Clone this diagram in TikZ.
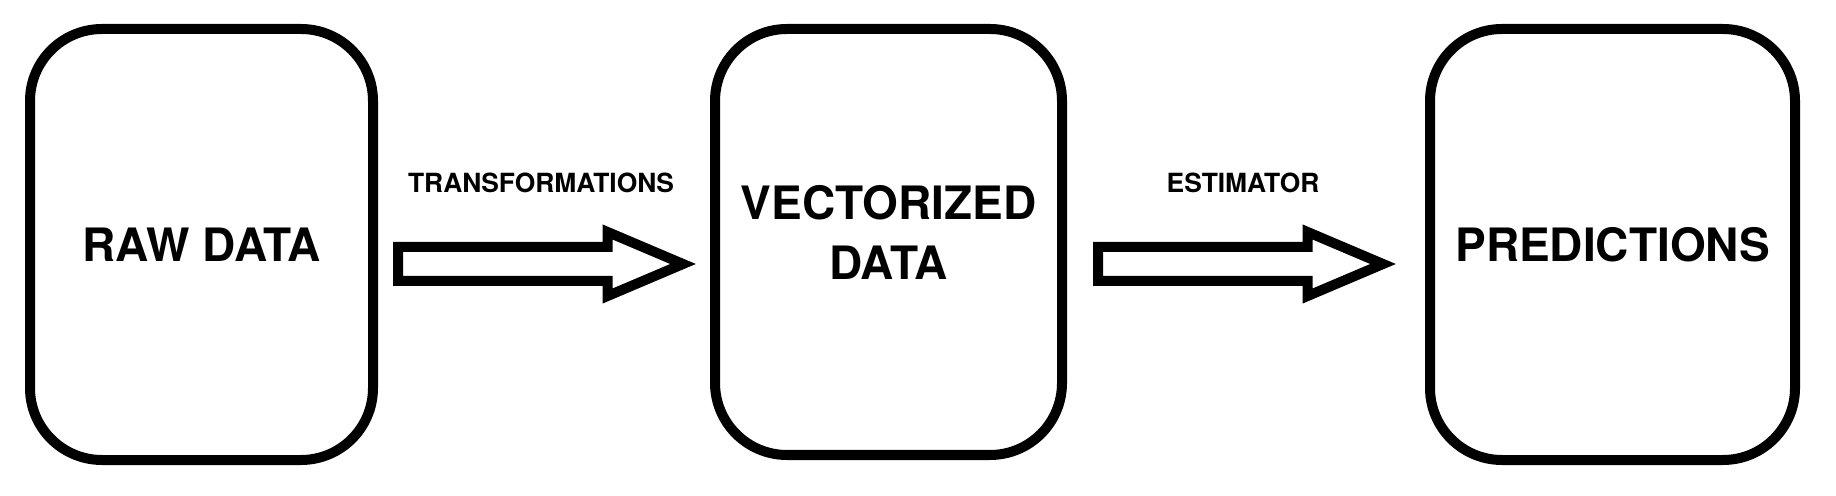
\documentclass[tikz,border=0pt]{standalone}
\usepackage{fontspec}
\setmainfont{TeX Gyre Heros}
\usetikzlibrary{shapes.arrows, positioning}

\tikzset{
  stage/.style={draw, line width=5pt, rounded corners=36pt, inner sep=0pt,
    align=center, font=\bfseries\fontsize{23}{30}\selectfont},
  flow/.style={draw, single arrow, line width=5pt, inner xsep=0pt, inner ysep=6pt,
    text height=0pt, text depth=0pt, anchor=tail,
    single arrow head extend=7.5pt, single arrow tip angle=46,
    minimum height=142.5pt, minimum width=20pt},
  flowlabel/.style={font=\bfseries\fontsize{13.2}{15}\selectfont, anchor=base}
}

\begin{document}
\begin{tikzpicture}[x=0.5pt, y=-0.5pt]
    \useasboundingbox (0,0) rectangle (1836,496);
    % stages
    \node[stage, minimum width=171.5pt, minimum height=215.5pt] (raw) at (201.5,244.5) {RAW DATA};
    \node[stage, minimum width=173.5pt, minimum height=213pt, text depth=10pt] (vec) at (888.5,242) {VECTORIZED\\DATA};
    \node[stage, minimum width=182.5pt, minimum height=215.5pt] (pred) at (1612.5,244.5) {PREDICTIONS};
    % arrows
    \node[flow] (transarrow) at (393,264) {};
    \node[flowlabel] (translabel) at (541,193) {TRANSFORMATIONS};
    \node[flow] (estarrow) at (1093,264) {};
    \node[flowlabel] (estlabel) at (1243,193) {ESTIMATOR};
\end{tikzpicture}
\end{document}
